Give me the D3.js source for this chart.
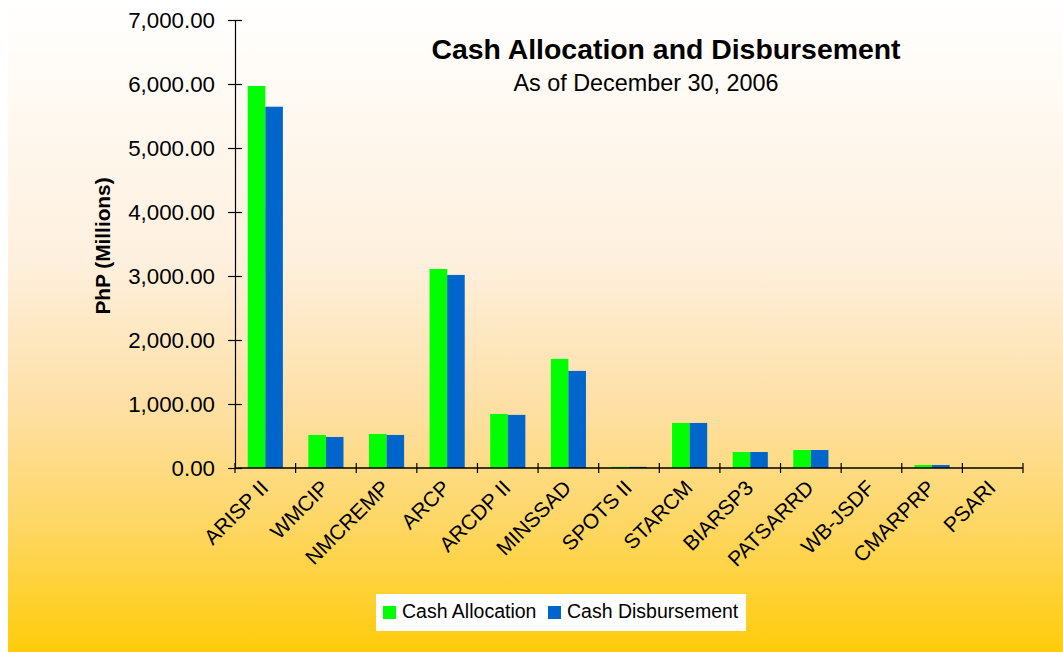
<!DOCTYPE html>
<html>
<head>
<meta charset="utf-8">
<script src="https://cdn.jsdelivr.net/npm/d3@7"></script>
<style>
  html, body { margin: 0; padding: 0; background: #ffffff; }
  svg { display: block; }
  text { font-family: Arial, "Liberation Sans", sans-serif; fill: #000; }
</style>
</head>
<body>
<svg id="chart" width="1063" height="652"></svg>
<script>
const categories = ["ARISP II","WMCIP","NMCREMP","ARCP","ARCDP II","MINSSAD","SPOTS II","STARCM","BIARSP3","PATSARRD","WB-JSDF","CMARPRP","PSARI"];
const cashAllocation   = [5970, 516, 532, 3110, 845, 1705, 18, 704, 250, 281, 0, 47, 0];
const cashDisbursement = [5645, 485, 516, 3017, 830, 1517, 18, 704, 250, 281, 0, 47, 0];
const seriesNames = ["Cash Allocation", "Cash Disbursement"];
const seriesColors = ["#00FF00", "#0066CC"];
const yTicks = [0, 1000, 2000, 3000, 4000, 5000, 6000, 7000];
const titleText = "Cash Allocation and Disbursement";
const subtitleText = "As of December 30, 2006";
const yLabel = "PhP (Millions)";

const svg = d3.select("#chart");
const W = 1063, H = 652;

// background gradient
const defs = svg.append("defs");
const grad = defs.append("linearGradient").attr("id", "bg").attr("x1", 0).attr("y1", 0).attr("x2", 0).attr("y2", 1);
[[0, "#FFFFFF"], [0.4, "#FEF0DE"], [0.62, "#FEE0A6"], [0.8, "#FED766"], [1, "#FFCC0A"]].forEach(([o, c]) =>
  grad.append("stop").attr("offset", o).attr("stop-color", c));
svg.append("rect").attr("x", 8).attr("y", 0).attr("width", W - 8).attr("height", H).attr("fill", "url(#bg)");

const plot = { left: 235, right: 1023, top: 20, bottom: 468 };

const x = d3.scaleBand().domain(categories).range([plot.left, plot.right]).paddingInner(0.42).paddingOuter(0.21);
const xs = d3.scaleBand().domain(seriesNames).range([0, x.bandwidth()]).padding(0);
const y = d3.scaleLinear().domain([0, 7000]).range([plot.bottom, plot.top]);

const rows = categories.map((c, i) => ({ cat: c, vals: [cashAllocation[i], cashDisbursement[i]] }));

// bars
const g = svg.append("g");
rows.forEach(r => {
  r.vals.forEach((v, k) => {
    g.append("rect")
      .attr("x", x(r.cat) + xs(seriesNames[k]))
      .attr("y", y(v))
      .attr("width", xs.bandwidth())
      .attr("height", plot.bottom - y(v))
      .attr("fill", seriesColors[k]);
  });
});

// y axis
const fmt = d3.format(",.2f");
const yAxis = svg.append("g").attr("transform", `translate(${plot.left},0)`)
  .call(d3.axisLeft(y).tickValues(yTicks).tickFormat(fmt).tickSize(0).tickPadding(20));
yAxis.select(".domain").attr("stroke", "#000").attr("stroke-width", 1.2);
yAxis.selectAll(".tick text").attr("font-size", "22.3px").attr("font-family", "Arial, 'Liberation Sans', sans-serif").attr("fill", "#000");
yAxis.selectAll(".tick").append("line").attr("x1", -7).attr("x2", 7).attr("stroke", "#000").attr("stroke-width", 1.2);

// x axis
const step = x.step();
const boundaries = d3.range(categories.length + 1).map(i => plot.left + i * step);
svg.append("line").attr("x1", plot.left).attr("x2", plot.right).attr("y1", plot.bottom).attr("y2", plot.bottom)
  .attr("stroke", "#000").attr("stroke-width", 1.6);
svg.selectAll(".xtick").data(boundaries).enter().append("line")
  .attr("x1", d => d).attr("x2", d => d).attr("y1", plot.bottom - 5).attr("y2", plot.bottom + 5)
  .attr("stroke", "#000").attr("stroke-width", 1.2);

svg.selectAll(".xlab").data(categories).enter().append("text")
  .attr("transform", d => `translate(${x(d) + x.bandwidth() / 2 - 1},${plot.bottom + 16}) rotate(-45)`)
  .attr("text-anchor", "end")
  .attr("dy", "0.35em")
  .attr("font-size", "21px")
  .text(d => d);

// y label
svg.append("text")
  .attr("transform", `translate(110,246) rotate(-90)`)
  .attr("text-anchor", "middle")
  .attr("font-size", "20.8px")
  .attr("font-weight", "bold")
  .text(yLabel);

// titles
svg.append("text").attr("x", 666).attr("y", 59).attr("text-anchor", "middle")
  .attr("font-size", "28.4px").attr("font-weight", "bold").text(titleText);
svg.append("text").attr("x", 646).attr("y", 91).attr("text-anchor", "middle")
  .attr("font-size", "23.4px").text(subtitleText);

// legend
const lg = svg.append("g");
lg.append("rect").attr("x", 376).attr("y", 594).attr("width", 370).attr("height", 37).attr("fill", "#fff");
const legendItems = [{ x: 383, tx: 402 }, { x: 548, tx: 567 }];
seriesNames.forEach((s, k) => {
  lg.append("rect").attr("x", legendItems[k].x).attr("y", 606).attr("width", 13).attr("height", 13).attr("fill", seriesColors[k]);
  lg.append("text").attr("x", legendItems[k].tx).attr("y", 618).attr("font-size", "19.5px").text(s);
});
</script>
</body>
</html>
